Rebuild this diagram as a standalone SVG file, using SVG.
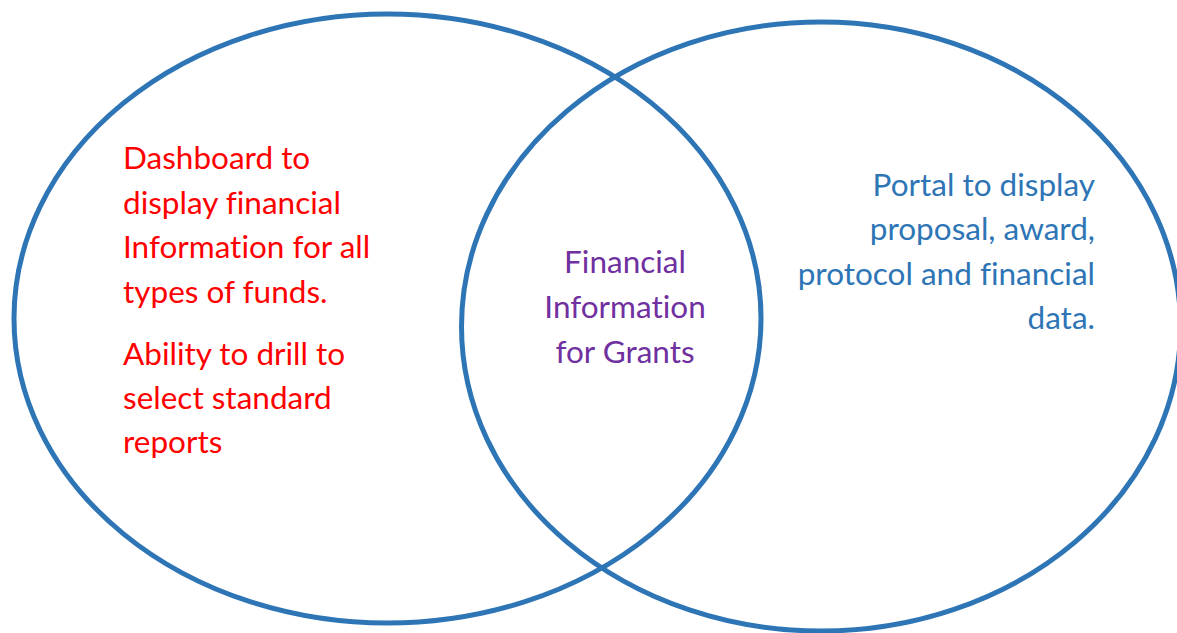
<svg xmlns="http://www.w3.org/2000/svg" width="1177" height="633" viewBox="0 0 1177 633">
<style>
.ring{fill:none;stroke:#2E75B6;stroke-width:5}
.t{font-family:Lato,"Open Sans","Liberation Sans",sans-serif;font-size:31.5px;font-variant-ligatures:none}
.red{fill:#FF0000}
.pur{fill:#7030A0}
.blu{fill:#2E75B6}
</style>
<rect width="1177" height="633" fill="#ffffff"/>
<g id="left-set">
<ellipse class="ring" cx="387.5" cy="318.5" rx="373.5" ry="304.5"/>
<text class="t red"><tspan x="123" y="169">Dashboard to</tspan><tspan x="123" y="214">display financial</tspan><tspan x="123" y="258">Information for all</tspan><tspan x="123" y="303">types of funds.</tspan><tspan x="123" y="365">Ability to drill to</tspan><tspan x="123" y="409">select standard</tspan><tspan x="123" y="453">reports</tspan></text>
</g>
<g id="right-set">
<ellipse class="ring" cx="821" cy="326.5" rx="359.5" ry="304.5"/>
<text class="t blu" text-anchor="end"><tspan x="1095" y="196">Portal to display</tspan><tspan x="1095" y="240">proposal, award,</tspan><tspan x="1095" y="285">protocol and financial</tspan><tspan x="1095" y="329">data.</tspan></text>
</g>
<g id="intersection">
<text class="t pur" text-anchor="middle"><tspan x="625" y="273">Financial</tspan><tspan x="625" y="318">Information</tspan><tspan x="625" y="363">for Grants</tspan></text>
</g>
</svg>
